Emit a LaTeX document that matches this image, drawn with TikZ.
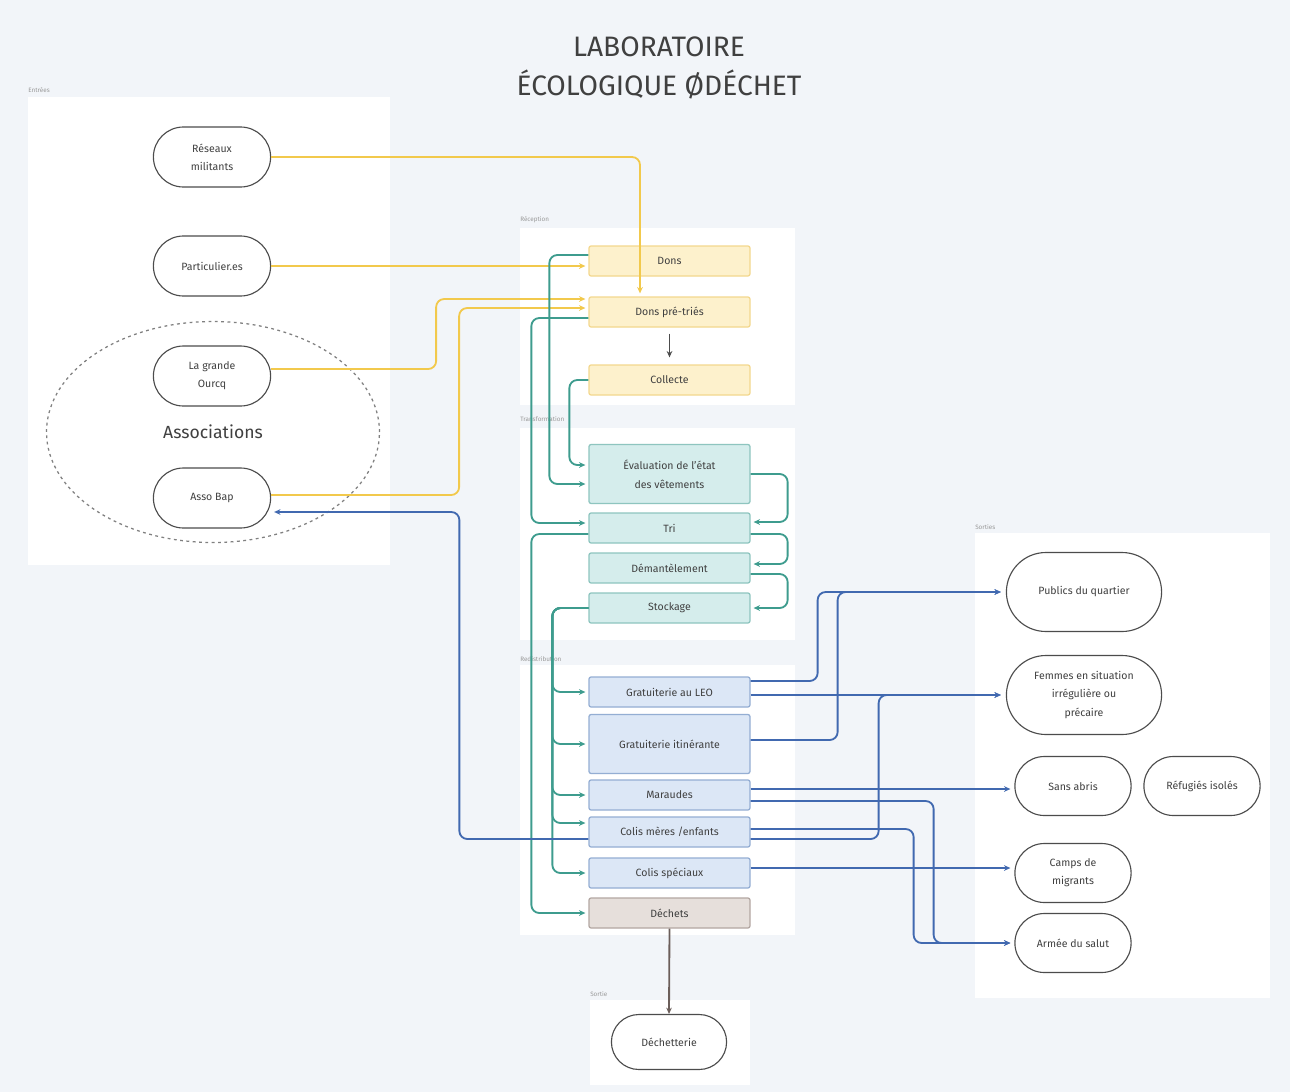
\documentclass[tikz,border=0pt]{standalone}
\usepackage{fontspec}
\setmainfont{Fira Sans}
\usetikzlibrary{shapes.misc,shapes.geometric,calc,arrows.meta}
\definecolor{bgc}{HTML}{F2F5F9}
\definecolor{ylc}{HTML}{F2C94C}
\definecolor{tlc}{HTML}{3E9C8E}
\definecolor{blc}{HTML}{4169B0}
\definecolor{gyc}{HTML}{6B5E5A}
\definecolor{ylfill}{HTML}{FDF1CC}
\definecolor{ylline}{HTML}{F3D88E}
\definecolor{tlfill}{HTML}{D5EDEC}
\definecolor{tlline}{HTML}{8EC5BF}
\definecolor{blfill}{HTML}{DCE7F6}
\definecolor{blline}{HTML}{94AED3}
\definecolor{grfill}{HTML}{E6DFDB}
\definecolor{grline}{HTML}{B3A7A2}
\definecolor{txt}{HTML}{404040}
\newlength\pxu \setlength\pxu{0.025cm}
\pgfdeclarelayer{back}
\pgfsetlayers{back,main}
\tikzset{
  panel/.style={fill=white, draw=none},
  plabel/.style={font=\fontsize{4.5}{5}\selectfont, text=black!40, anchor=south west, inner sep=0pt},
  pill/.style={rounded rectangle, draw=black!70, line width=0.8pt, fill=white, align=center,
     font=\fontsize{7.5}{13}\selectfont, text=txt, inner sep=1pt, minimum width=120\pxu, minimum height=60\pxu},
  box/.style={rectangle, rounded corners=1.5pt, line width=0.9pt, minimum width=161\pxu, minimum height=30\pxu,
     align=center, font=\fontsize{7.5}{13.5}\selectfont, text=txt, inner sep=1pt},
  ybox/.style={box, fill=ylfill, draw=ylline},
  tbox/.style={box, fill=tlfill, draw=tlline},
  bbox/.style={box, fill=blfill, draw=blline},
  gbox/.style={box, fill=grfill, draw=grline},
  conn/.style={line width=1.3pt, rounded corners=8\pxu, -{Stealth[length=4.5pt,width=4pt]}},
  yl/.style={conn, draw=ylc},
  tl/.style={conn, draw=tlc},
  bl/.style={conn, draw=blc},
  gl/.style={conn, draw=gyc},
}
\begin{document}
\begin{tikzpicture}[x=0.025cm, y=-0.025cm]
\useasboundingbox (0,0) rectangle (1290,1092);
\begin{pgfonlayer}{back}
\fill[bgc] (0,0) rectangle (1290,1092);
\fill[panel] (28,97) rectangle (390,565);
\fill[panel] (520,228) rectangle (795,405);
\fill[panel] (520,428) rectangle (795,640);
\fill[panel] (520,665) rectangle (795,935);
\fill[panel] (975,533) rectangle (1270,998);
\fill[panel] (590,1000) rectangle (750,1085);
\end{pgfonlayer}
% panel labels
\node[plabel] (lab1) at (28,93) {Entrées};
\node[plabel] (lab2) at (520,223) {Réception};
\node[plabel] (lab3) at (520,422) {Transformation};
\node[plabel] (lab4) at (520,662) {Redistribution};
\node[plabel] (lab5) at (975,530) {Sorties};
\node[plabel] (lab6) at (590,997) {Sortie};
% title
\node[font=\fontsize{20}{28}\selectfont, text=txt, align=center] (title) at (659,68) {LABORATOIRE\\ÉCOLOGIQUE ØDÉCHET};
% left
\node[ellipse, draw=black!50, dash pattern=on 2pt off 2.5pt, line width=0.9pt, minimum width=333\pxu, minimum height=221\pxu,
  font=\fontsize{12.5}{14}\selectfont, text=txt] (assoc) at (213,432) {Associations};
\node[pill] (rm) at (212,157) {Réseaux\\militants};
\node[pill] (part) at (212,266) {Particulier.es};
\node[pill] (lgo) at (212,376) {La grande\\Ourcq};
\node[pill] (asso) at (212,498) {Asso Bap};
% reception
\node[ybox] (dons) at (669.5,261) {Dons};
\node[ybox] (dpt) at (669.5,312) {Dons pré-triés};
\node[ybox] (coll) at (669.5,380) {Collecte};
% transformation
\node[tbox, minimum height=59\pxu] (eval) at (669.5,474) {Évaluation de l'état\\des vêtements};
\node[tbox] (tri) at (669.5,528) {Tri};
\node[tbox] (dem) at (669.5,568) {Démantèlement};
\node[tbox] (stock) at (669.5,608) {Stockage};
% redistribution
\node[bbox] (gleo) at (669.5,692) {Gratuiterie au LEO};
\node[bbox, minimum height=59\pxu] (giti) at (669.5,744) {Gratuiterie itinérante};
\node[bbox] (mar) at (669.5,795) {Maraudes};
\node[bbox] (colm) at (669.5,832) {Colis mères /enfants};
\node[bbox] (cols) at (669.5,873) {Colis spéciaux};
\node[gbox] (dech) at (669.5,913) {Déchets};
% sortie
\node[pill, minimum width=118\pxu, minimum height=55\pxu] (dechet) at (669,1042) {Déchetterie};
% sorties
\node[pill, minimum width=158\pxu, minimum height=79\pxu] (pub) at (1084,592) {Publics du quartier};
\node[pill, minimum width=158\pxu, minimum height=79\pxu] (fem) at (1084,695) {Femmes en situation\\irrégulière ou\\précaire};
\node[pill, minimum width=119\pxu, minimum height=59\pxu] (sans) at (1073,786) {Sans abris};
\node[pill, minimum width=119\pxu, minimum height=59\pxu] (ref) at (1202,786) {Réfugiés isolés};
\node[pill, minimum width=119\pxu, minimum height=59\pxu] (camps) at (1073,873) {Camps de\\migrants};
\node[pill, minimum width=119\pxu, minimum height=59\pxu] (armee) at (1073,943) {Armée du salut};
% yellow connectors
\draw[yl] (rm.east) -| ($(dpt.north)+(-29.5,-3)$);
\draw[yl] (part.east) -- ($(dons.west)+(-3,5)$);
\draw[yl] ($(lgo.east)+(0,-7)$) -- ++(165,0) |- ($(dpt.west)+(-3,-13)$);
\draw[yl] ($(asso.east)+(0,-3)$) -- ++(188,0) |- ($(dpt.west)+(-3,-4)$);
% dark arrow within reception
\draw[gl, draw=black!70, line width=1pt] ($(dpt.south)+(0,6)$) -- ($(coll.north)+(0,-7)$);
% teal connectors
\draw[tl] (coll.west) -- ++(-19,0) |- ($(eval.west)+(-3,-9)$);
\draw[tl] ($(dons.west)+(0,-6)$) -- ++(-39,0) |- ($(eval.west)+(-3,10)$);
\draw[tl] ($(dpt.west)+(0,6)$) -- ++(-57,0) |- ($(tri.west)+(-3,-5)$);
\draw[tl] ($(tri.west)+(0,6)$) -- ++(-57,0) |- ($(dech.west)+(-3,0)$);
\draw[tl] (eval.east) -- ++(37,0) |- ($(tri.east)+(3,-6)$);
\draw[tl] ($(tri.east)+(0,6)$) -- ++(37,0) |- ($(dem.east)+(3,-4)$);
\draw[tl] ($(dem.east)+(0,6)$) -- ++(37,0) |- ($(stock.east)+(3,0)$);
\draw[tl] (stock.west) -- ++(-36,0) |- ($(gleo.west)+(-3,0)$);
\draw[tl] (stock.west) -- ++(-36,0) |- ($(giti.west)+(-3,0)$);
\draw[tl] (stock.west) -- ++(-36,0) |- ($(mar.west)+(-3,0)$);
\draw[tl] (stock.west) -- ++(-36,0) |- ($(colm.west)+(-3,-9)$);
\draw[tl] (stock.west) -- ++(-36,0) |- ($(cols.west)+(-3,0)$);
% gray
\draw[gl] (dech.south) -- (dechet.north);
% blue connectors
\draw[bl] ($(gleo.east)+(0,-11)$) -- ++(67,0) |- ($(pub.west)+(-5,0)$);
\draw[bl] ($(gleo.east)+(0,3)$) -- ($(fem.west)+(-5,0)$);
\draw[bl] ($(giti.east)+(0,-4)$) -- ++(87,0) |- ($(pub.west)+(-5,0)$);
\draw[bl] ($(mar.east)+(0,-6)$) -- ($(sans.west)+(-4,3)$);
\draw[bl] ($(mar.east)+(0,6)$) -- ++(183,0) |- ($(armee.west)+(-4,0)$);
\draw[bl] ($(colm.east)+(0,-3)$) -- ++(163,0) |- ($(armee.west)+(-4,0)$);
\draw[bl] ($(colm.east)+(0,7)$) -- ++(128,0) |- ($(fem.west)+(-5,0)$);
\draw[bl] ($(colm.west)+(0,7)$) -- ++(-129,0) |- ($(asso.east)+(3,14)$);
\draw[bl] ($(cols.east)+(0,-5)$) -- ($(camps.west)+(-4,-5)$);
\end{tikzpicture}
\end{document}
